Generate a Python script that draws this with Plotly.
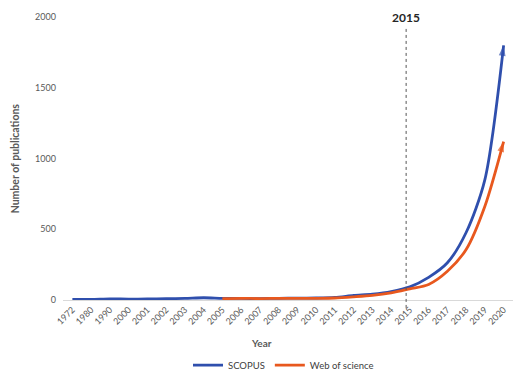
import plotly.graph_objects as go

years = ["1972", "1980", "1990", "2000", "2001", "2002", "2003", "2004", "2005", "2006",
         "2007", "2008", "2009", "2010", "2011", "2012", "2013", "2014", "2015", "2016",
         "2017", "2018", "2019", "2020"]
scopus = [5, 4, 8, 6, 7, 9, 11, 16, 12, 11,
          10, 12, 13, 14, 18, 32, 42, 60, 93, 160,
          263, 477, 851, 1800]
wos_years = years[8:]
wos = [10, 12, 10, 12, 12, 12, 14, 22, 32, 50, 79, 110,
       203, 357, 663, 1120]

BLUE = "#2f4fad"
ORANGE = "#e8581e"
FONT = "Lato, 'Open Sans', sans-serif"


def arrow_marker(n, color):
    return dict(symbol=["circle"] * (n - 1) + ["arrow"],
                size=[0] * (n - 1) + [11],
                angleref="previous", color=color, line=dict(width=0))


fig = go.Figure()
fig.add_trace(go.Scatter(x=years, y=scopus, name="SCOPUS", mode="lines+markers",
                         line=dict(color=BLUE, width=2.8, shape="spline", smoothing=0.8),
                         marker=arrow_marker(len(scopus), BLUE)))
fig.add_trace(go.Scatter(x=wos_years, y=wos, name="Web of science", mode="lines+markers",
                         line=dict(color=ORANGE, width=2.8, shape="spline", smoothing=0.8),
                         marker=arrow_marker(len(wos), ORANGE)))

fig.add_shape(type="line", xref="x", yref="paper", x0=17.8, x1=17.8, y0=-0.028, y1=0.96,
              line=dict(color="#555555", width=1, dash="dot"))
fig.add_annotation(x=17.8, y=1.0, xref="x", yref="paper", text="<b>2015</b>",
                   showarrow=False, yanchor="middle", font=dict(size=12, color="#262626"))
fig.add_annotation(x=0.44, y=-0.152, xref="paper", yref="paper", text="<b>Year</b>",
                   showarrow=False, yanchor="middle", font=dict(size=10, color="#595959"))
fig.add_annotation(x=-0.107, y=0.5, xref="paper", yref="paper",
                   text="<b>Number of publications</b>", textangle=-90,
                   showarrow=False, xanchor="center", yanchor="middle",
                   font=dict(size=10.5, color="#595959"))

fig.update_layout(
    width=517, height=374,
    margin=dict(l=63, r=4, t=17, b=74, autoexpand=False),
    paper_bgcolor="white", plot_bgcolor="white",
    font=dict(family=FONT, size=9, color="#595959"),
    showlegend=True,
    legend=dict(orientation="h", x=0.49, xanchor="center", y=-0.23, yanchor="middle",
                font=dict(size=9.5, color="#404040")),
)
fig.update_xaxes(type="category", range=[-0.5, len(years) - 0.5], tickangle=-45,
                 showgrid=False, showline=True,
                 linecolor="#d9d9d9", linewidth=1, ticks="", automargin=False,
                 tickfont=dict(size=9, color="#595959"))
fig.update_yaxes(range=[0, 2000], tickvals=[0, 500, 1000, 1500, 2000], showgrid=False,
                 zeroline=False, ticks="", automargin=False, ticklabelstandoff=6,
                 tickfont=dict(size=9, color="#595959"))

fig.write_html("out.html")
